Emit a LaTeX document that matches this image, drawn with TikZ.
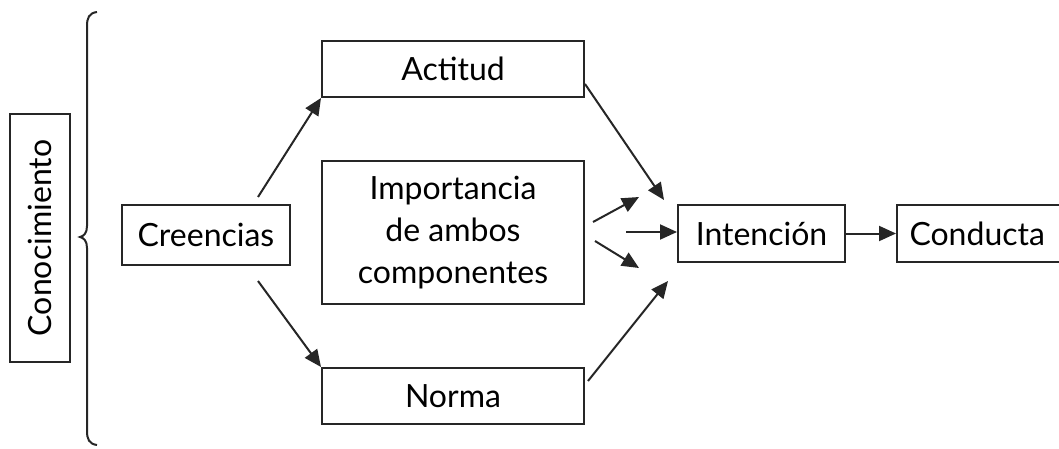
\documentclass[tikz,border=0pt]{standalone}
\usepackage{fontspec}
\setmainfont{Lato}
\usetikzlibrary{arrows.meta}
\begin{document}
\begin{tikzpicture}[x=1pt,y=-1pt,
  box/.style={draw=black!85,line width=2pt,inner sep=0pt,font=\fontsize{32}{42}\selectfont,align=center},
  arr/.style={line width=2pt,draw=black!85,-{Triangle[length=17pt,width=15pt]}}]
\useasboundingbox (0,0) rectangle (1059,449);
\node[box,minimum width=60pt,minimum height=248pt] (con) at (40,238) {};
\node[rotate=90,font=\fontsize{32}{42}\selectfont] (contxt) at (con.center) {Conocimiento};
\coordinate (bt) at (97,12);
\coordinate (bb) at (97,445);
\draw[line width=2pt,black!85] (bt) .. controls (89,13) and (87,18) .. (87,26) -- (87,226) .. controls (87,233) and (84,236) .. (80,237) .. controls (84,238) and (87,241) .. (87,248) -- (87,431) .. controls (87,439) and (89,444) .. (bb);
\node[box,minimum width=168pt,minimum height=60pt] (cre) at (206,235) {Creencias};
\node[box,minimum width=262pt,minimum height=56pt] (act) at (453,69) {Actitud};
\node[box,minimum width=262pt,minimum height=143pt] (imp) at (453,232.5) {Importancia\\de ambos\\componentes};
\node[box,minimum width=262pt,minimum height=56pt] (nor) at (453,396) {Norma};
\node[box,minimum width=167pt,minimum height=57pt] (int) at (761.5,233.5) {Intención};
\node[box,minimum width=175pt,minimum height=57pt,inner xsep=12pt,text width=150pt,align=left,anchor=west] (cond) at (896,233.5) {Conducta};
\coordinate (c1) at (258,197);
\coordinate (c2) at (258,281);
\draw[arr] (c1) -- (act.south west);
\draw[arr] (c2) -- (nor.north west);
\coordinate (a1) at (585,84);
\coordinate (a2) at (664,200);
\draw[arr] (a1) -- (a2);
\coordinate (n1) at (588,381);
\coordinate (n2) at (668,281);
\draw[arr] (n1) -- (n2);
\coordinate (i1) at (593,222);
\coordinate (i1e) at (639,197);
\draw[arr] (i1) -- (i1e);
\coordinate (i2) at (626,232);
\draw[arr] (i2) -- (int.west |- i2);
\coordinate (i3) at (595,241);
\coordinate (i3e) at (639,268);
\draw[arr] (i3) -- (i3e);
\draw[arr] (int.east) -- (cond.west);
\end{tikzpicture}
\end{document}
